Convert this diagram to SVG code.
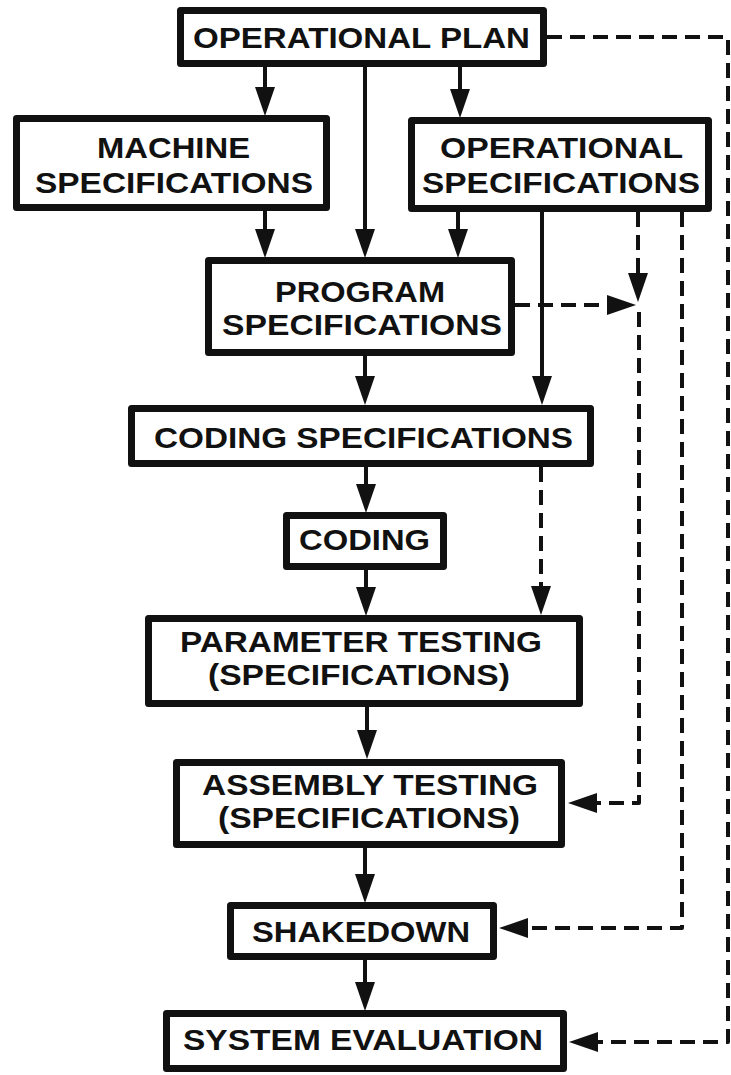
<svg xmlns="http://www.w3.org/2000/svg" width="731" height="1075" viewBox="0 0 731 1075">
  <style>
    .box { fill: #fff; stroke: #111; stroke-width: 7; stroke-linejoin: round; }
    .lbl { font-family: "Liberation Sans", Arial, sans-serif; font-weight: bold; font-size: 30px; fill: #111; text-anchor: middle; }
    .flow { fill: none; stroke: #111; stroke-width: 4; marker-end: url(#head); }
    .dash { fill: none; stroke: #111; stroke-width: 4; stroke-dasharray: 15 8; stroke-linejoin: round; marker-end: url(#head); }
  </style>
  <defs>
    <!-- solid triangular arrowhead, drawn forward from the line's end -->
    <marker id="head" markerUnits="userSpaceOnUse" markerWidth="30" markerHeight="20" refX="0" refY="10" orient="auto" overflow="visible">
      <path d="M0,0 L29,10 L0,20 Z" fill="#111"/>
    </marker>
  </defs>
  <rect width="731" height="1075" fill="#fff"/>

  <g id="connectors">
    <!-- solid flow -->
    <path class="flow" d="M265,67 V87"/>
    <path class="flow" d="M365,67 V229"/>
    <path class="flow" d="M460,67 V89"/>
    <path class="flow" d="M265,211 V229"/>
    <path class="flow" d="M458,212 V229"/>
    <path class="flow" d="M542,212 V376"/>
    <path class="flow" d="M365,356 V376"/>
    <path class="flow" d="M366,467 V484"/>
    <path class="flow" d="M366,570 V587"/>
    <path class="flow" d="M367,707 V730"/>
    <path class="flow" d="M365,848 V874"/>
    <path class="flow" d="M365,960 V982"/>
    <!-- dashed feedback / reference paths -->
    <path class="dash" d="M515,305 H607"/>
    <path class="dash" d="M638,212 V273"/>
    <path class="dash" d="M639,312 V803 H597" marker-end="url(#head)"/>
    <path class="dash" d="M541,467 V586"/>
    <path class="dash" d="M682,212 V928 H528"/>
    <path class="dash" d="M547,37 H728 V1042 H598"/>
  </g>

  <g id="operational-plan">
    <rect class="box" x="180.5" y="10.5" width="363" height="53"/>
    <text class="lbl" x="361.5" y="48" textLength="337" lengthAdjust="spacingAndGlyphs">OPERATIONAL PLAN</text>
  </g>
  <g id="machine-specifications">
    <rect class="box" x="16.5" y="118.5" width="310" height="89"/>
    <text class="lbl" x="173.5" y="158" textLength="153" lengthAdjust="spacingAndGlyphs">MACHINE</text>
    <text class="lbl" x="174" y="193" textLength="278" lengthAdjust="spacingAndGlyphs">SPECIFICATIONS</text>
  </g>
  <g id="operational-specifications">
    <rect class="box" x="411.5" y="120.5" width="297" height="88"/>
    <text class="lbl" x="561.5" y="158" textLength="243" lengthAdjust="spacingAndGlyphs">OPERATIONAL</text>
    <text class="lbl" x="561" y="193" textLength="278" lengthAdjust="spacingAndGlyphs">SPECIFICATIONS</text>
  </g>
  <g id="program-specifications">
    <rect class="box" x="208.5" y="260.5" width="303" height="92"/>
    <text class="lbl" x="360" y="302" textLength="170" lengthAdjust="spacingAndGlyphs">PROGRAM</text>
    <text class="lbl" x="362" y="335" textLength="280" lengthAdjust="spacingAndGlyphs">SPECIFICATIONS</text>
  </g>
  <g id="coding-specifications">
    <rect class="box" x="131.5" y="408.5" width="459" height="55"/>
    <text class="lbl" x="363.5" y="448" textLength="419" lengthAdjust="spacingAndGlyphs">CODING SPECIFICATIONS</text>
  </g>
  <g id="coding">
    <rect class="box" x="286.5" y="515.5" width="157" height="51"/>
    <text class="lbl" x="364.5" y="550" textLength="131" lengthAdjust="spacingAndGlyphs">CODING</text>
  </g>
  <g id="parameter-testing">
    <rect class="box" x="148.5" y="618.5" width="431" height="85"/>
    <text class="lbl" x="361" y="652" textLength="362" lengthAdjust="spacingAndGlyphs">PARAMETER TESTING</text>
    <text class="lbl" x="359" y="685" textLength="302" lengthAdjust="spacingAndGlyphs">(SPECIFICATIONS)</text>
  </g>
  <g id="assembly-testing">
    <rect class="box" x="176.5" y="762.5" width="385" height="82"/>
    <text class="lbl" x="370" y="795" textLength="336" lengthAdjust="spacingAndGlyphs">ASSEMBLY TESTING</text>
    <text class="lbl" x="369" y="828" textLength="302" lengthAdjust="spacingAndGlyphs">(SPECIFICATIONS)</text>
  </g>
  <g id="shakedown">
    <rect class="box" x="230.5" y="905.5" width="263" height="51"/>
    <text class="lbl" x="361" y="942" textLength="218" lengthAdjust="spacingAndGlyphs">SHAKEDOWN</text>
  </g>
  <g id="system-evaluation">
    <rect class="box" x="166.5" y="1013.5" width="397" height="55"/>
    <text class="lbl" x="363" y="1050" textLength="360" lengthAdjust="spacingAndGlyphs">SYSTEM EVALUATION</text>
  </g>
</svg>
